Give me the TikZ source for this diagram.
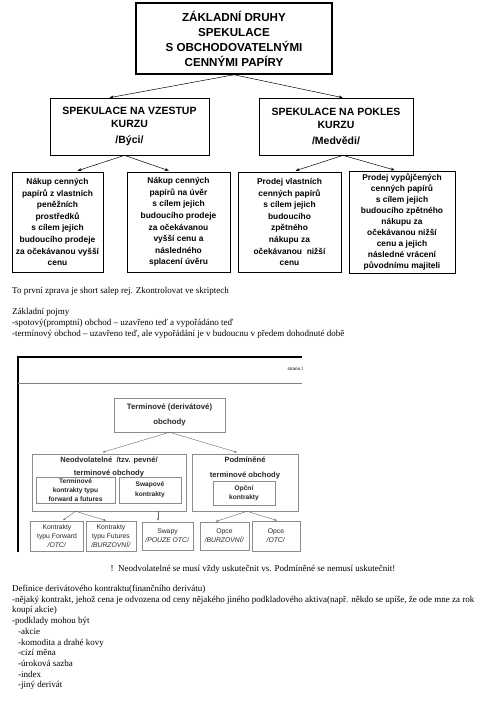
\documentclass[tikz,border=0pt]{standalone}
\usepackage{fontspec}
\setmainfont{Liberation Serif}
\newfontfamily\arial{Liberation Sans}
\usetikzlibrary{arrows.meta}
\tikzset{
  hlavni/.style={draw,line width=1.5pt,align=center,inner sep=0pt,font=\arial\bfseries\fontsize{11.6}{15}\selectfont},
  druh/.style={draw,line width=0.7pt,align=center,inner sep=0pt,font=\arial\bfseries\fontsize{10.5}{13}\selectfont},
  popis/.style={draw,line width=0.7pt,align=center,inner sep=0pt,font=\arial\bfseries\fontsize{8.4}{11.6}\selectfont},
  sipka/.style={-{Stealth[length=4pt,width=3pt]},line width=0.5pt},
  ramec/.style={draw=black!45,line width=0.5pt,inner sep=0pt},
  malysip/.style={-{Stealth[length=2.5pt,width=2pt]},line width=0.4pt,black!60},
  txt/.style={align=left,inner sep=0pt,anchor=north west,font=\fontsize{9}{10.7}\selectfont}
}
\begin{document}
\begin{tikzpicture}[x=1pt,y=-1pt]
\useasboundingbox (0,0) rectangle (497,702);
\node[hlavni,minimum width=196pt,minimum height=71pt] (zaklad) at (234,38.5) {ZÁKLADNÍ DRUHY\\SPEKULACE\\S OBCHODOVATELNÝMI\\CENNÝMI PAPÍRY};
\node[druh,minimum width=159pt,minimum height=57pt] (vzestup) at (129.5,126.5) {SPEKULACE NA VZESTUP\\KURZU\\[3pt]/Býci/};
\node[druh,minimum width=154pt,minimum height=57pt] (pokles) at (336,126.5) {SPEKULACE NA POKLES\\KURZU\\[3pt]/Medvědi/};
\node[popis,minimum width=91pt,minimum height=100pt] (nakup1) at (57.5,222) {Nákup cenných\\papírů z vlastních\\peněžních\\prostředků\\s cílem jejich\\budoucího prodeje\\za očekávanou vyšší\\cenu};
\node[popis,minimum width=103pt,minimum height=100pt] (nakup2) at (178.5,222) {Nákup cenných\\papírů na úvěr\\s cílem jejich\\budoucího prodeje\\za očekávanou\\vyšší cenu a\\následného\\splacení úvěru};
\node[popis,minimum width=103pt,minimum height=100pt] (prodej1) at (289.5,222) {Prodej vlastních\\cenných papírů\\s cílem jejich\\budoucího\\zpětného\\nákupu za\\očekávanou\ \ nižší\\cenu};
\node[popis,minimum width=106pt,minimum height=102pt,font=\arial\bfseries\fontsize{8.4}{11}\selectfont] (prodej2) at (402,222) {Prodej vypůjčených\\cenných papírů\\s cílem jejich\\budoucího zpětného\\nákupu za\\očekávanou nižší\\cenu a jejich\\následné vrácení\\původnímu majiteli};
\draw[sipka] (zaklad.south) -- ([xshift=60pt]vzestup.north west);
\draw[sipka] (zaklad.south) -- ([xshift=84pt]pokles.north west);
\draw[sipka,shorten >=3pt] ([xshift=-5pt]vzestup.south) -- ([xshift=63pt]nakup1.north west);
\draw[sipka,shorten >=3pt] ([xshift=-5pt]vzestup.south) -- ([xshift=45pt]nakup2.north west);
\draw[sipka,shorten >=3pt] ([xshift=7pt]pokles.south) -- ([xshift=55pt]prodej1.north west);
\draw[sipka,shorten >=2pt] ([xshift=7pt]pokles.south) -- ([xshift=48pt]prodej2.north west);
\node[txt] (pozn) at (12,287) {To první zprava je short salep rej. Zkontrolovat ve skriptech\\[10.7pt]Základní pojmy\\-spotový(promptní) obchod – uzavřeno teď a vypořádáno teď\\-termínový obchod – uzavřeno teď, ale vypořádání je v budoucnu v předem dohodnuté době};
\draw[line width=1.5pt] (18,552) -- (18,357) -- (302,357);
\draw[line width=0.4pt,black!50] (18,383) -- (302,383);
\begin{scope}
\clip (18,357) rectangle (302,552);
\node[anchor=east,inner sep=0pt,font=\arial\fontsize{4.5}{5}\selectfont] (strana) at (304,369) {strana 3};
\end{scope}
\begin{scope}[every node/.append style={text=black!85}]
\node[ramec,minimum width=111pt,minimum height=34pt,align=center,font=\arial\bfseries\fontsize{7.8}{15}\selectfont] (termin) at (169.5,415) {Terminové (derivátové)\\obchody};
\node[ramec,minimum width=154pt,minimum height=57pt] (neodv) at (109,482.5) {};
\node[ramec,minimum width=106pt,minimum height=57pt] (podm) at (245,482.5) {};
\node[anchor=north,align=center,inner sep=0pt,font=\arial\bfseries\fontsize{7.6}{12.5}\selectfont] (neodvt) at (109,457) {Neodvolatelné\ \ /tzv. pevné/\\terminové obchody};
\node[anchor=north,align=center,inner sep=0pt,font=\arial\bfseries\fontsize{7.6}{14.5}\selectfont] (podmt) at (245,457) {Podmíněné\\terminové obchody};
\node[ramec,minimum width=79pt,minimum height=26pt,align=center,font=\arial\bfseries\fontsize{6.6}{9}\selectfont] (kontr) at (75.5,490) {Terminové\\kontrakty typu\\forward a futures};
\node[ramec,minimum width=62pt,minimum height=26pt,align=center,font=\arial\bfseries\fontsize{6.6}{9.5}\selectfont] (swapk) at (150,490) {Swapové\\kontrakty};
\node[ramec,minimum width=62pt,minimum height=24pt,align=center,font=\arial\bfseries\fontsize{6.6}{9.5}\selectfont] (opcni) at (244,493) {Opční\\kontrakty};
\node[ramec,minimum width=53pt,minimum height=30pt,align=center,font=\arial\fontsize{6.8}{9}\selectfont] (fwd) at (57,536) {Kontrakty\\typu Forward\\\textit{/OTC/}};
\node[ramec,minimum width=50pt,minimum height=30pt,align=center,font=\arial\fontsize{6.8}{9}\selectfont] (fut) at (111,536) {Kontrakty\\typu Futures\\\textit{/BURZOVNÍ/}};
\node[ramec,minimum width=51pt,minimum height=28pt,align=center,font=\arial\fontsize{6.8}{9}\selectfont] (swapy) at (167.5,536) {Swapy\\\textit{/POUZE OTC/}};
\node[ramec,minimum width=49pt,minimum height=28pt,align=center,font=\arial\fontsize{6.8}{9}\selectfont] (opce1) at (224.5,536) {Opce\\\textit{/BURZOVNÍ/}};
\node[ramec,minimum width=48pt,minimum height=30pt,align=center,font=\arial\fontsize{6.8}{9}\selectfont] (opce2) at (276,536) {Opce\\\textit{/OTC/}};
\end{scope}
\draw[malysip,shorten >=5pt] (termin.south) -- ([xshift=66pt]neodv.north west);
\draw[malysip,shorten >=5pt] (termin.south) -- ([xshift=50pt]podm.north west);
\draw[malysip,shorten >=1pt] (kontr.south |- neodv.south) -- ([xshift=32pt]fwd.north west);
\draw[malysip,shorten >=1pt] (kontr.south |- neodv.south) -- ([xshift=21pt]fut.north west);
\draw[malysip,shorten >=1pt] ([xshift=8pt]swapk.south |- neodv.south) -- ([xshift=8pt]swapk.south |- swapy.north);
\draw[malysip,shorten >=1pt] ([xshift=2pt]podm.south) -- ([xshift=15pt]opce1.north west);
\draw[malysip,shorten >=1pt] ([xshift=2pt]podm.south) -- ([xshift=26pt]opce2.north west);
\node[inner sep=0pt,font=\fontsize{9}{10.7}\selectfont] (rozdil) at (253,569) {!\ \ Neodvolatelné se musí vždy uskutečnit vs. Podmíněné se nemusí uskutečnit!};
\node[txt] (definice) at (12,585) {Definice derivátového kontraktu(finančního derivátu)\\-nějaký kontrakt, jehož cena je odvozena od ceny nějakého jiného podkladového aktiva(např. někdo se upíše, že ode mne za rok\\koupí akcie)\\-podklady mohou být\\\hspace*{6pt}-akcie\\\hspace*{6pt}-komodita a drahé kovy\\\hspace*{6pt}-cizí měna\\\hspace*{6pt}-úroková sazba\\\hspace*{6pt}-index\\\hspace*{6pt}-jiný derivát};
\end{tikzpicture}
\end{document}
